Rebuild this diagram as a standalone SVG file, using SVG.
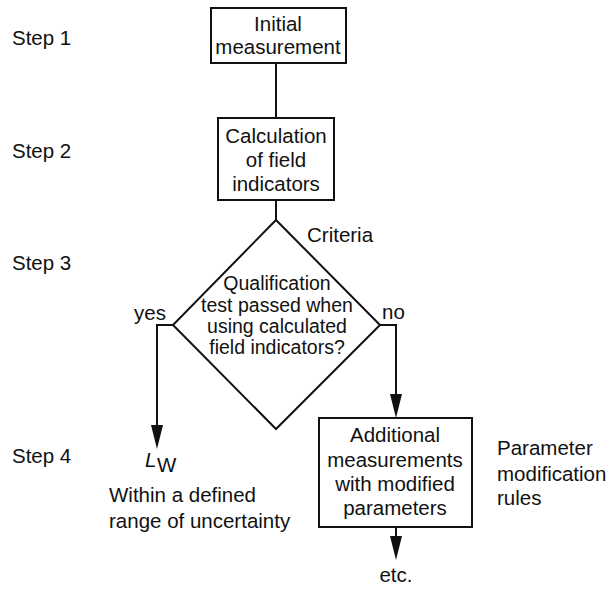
<svg xmlns="http://www.w3.org/2000/svg" width="615" height="591" viewBox="0 0 615 591">
  <style>
    text { font-family: "Liberation Sans", Arial, sans-serif; font-size: 20.5px; fill: #111; }
    .c { text-anchor: middle; }
    .q { font-size: 19.5px; }
    .shape { fill: #fff; stroke: #111; stroke-width: 2; }
    .wire { fill: none; stroke: #111; stroke-width: 2; }
    .head { fill: #111; }
  </style>

  <!-- step labels -->
  <g id="steps">
    <text x="12" y="45">Step 1</text>
    <text x="12" y="158">Step 2</text>
    <text x="12" y="270">Step 3</text>
    <text x="12" y="463">Step 4</text>
  </g>

  <!-- connectors -->
  <g id="connectors">
    <line class="wire" x1="276" y1="63" x2="276" y2="118"/>
    <line class="wire" x1="276" y1="200" x2="276" y2="220"/>
    <polyline class="wire" points="173,325 157,325 157,425"/>
    <polygon class="head" points="151,425 163,425 157,449"/>
    <polyline class="wire" points="380,325 396,325 396,394"/>
    <polygon class="head" points="390,394 402,394 396,418"/>
    <line class="wire" x1="396" y1="527" x2="396" y2="536"/>
    <polygon class="head" points="390,536 402,536 396,560"/>
  </g>

  <g id="initial">
    <rect class="shape" x="211" y="8" width="135" height="55"/>
    <text class="c" x="278" y="31">Initial</text>
    <text class="c" x="278" y="54">measurement</text>
  </g>

  <g id="calculation">
    <rect class="shape" x="218" y="118" width="116" height="82"/>
    <text class="c" x="276" y="143">Calculation</text>
    <text class="c" x="276" y="167">of field</text>
    <text class="c" x="276" y="191">indicators</text>
  </g>

  <g id="decision">
    <polygon class="shape" points="276,220 380,325 276,429 173,325"/>
    <text class="c q" x="277" y="290">Qualification</text>
    <text class="c q" x="277" y="312">test passed when</text>
    <text class="c q" x="277" y="333">using calculated</text>
    <text class="c q" x="277" y="354">field indicators?</text>
  </g>

  <g id="criteria">
    <text x="307" y="242">Criteria</text>
  </g>

  <g id="branch-labels">
    <text x="134" y="320">yes</text>
    <text x="382" y="319">no</text>
  </g>

  <g id="result">
    <text x="145" y="467" font-style="italic">L</text>
    <text x="157" y="472" font-size="15">W</text>
    <text x="109" y="502">Within a defined</text>
    <text x="109" y="528">range of uncertainty</text>
  </g>

  <g id="additional">
    <rect class="shape" x="319" y="418" width="153" height="109"/>
    <text class="c" x="395" y="442">Additional</text>
    <text class="c" x="395" y="467">measurements</text>
    <text class="c" x="395" y="491">with modified</text>
    <text class="c" x="395" y="515">parameters</text>
  </g>

  <g id="rules">
    <text x="497" y="455">Parameter</text>
    <text x="497" y="481">modification</text>
    <text x="497" y="505">rules</text>
  </g>

  <g id="etc">
    <text class="c" x="396" y="582">etc.</text>
  </g>
</svg>
